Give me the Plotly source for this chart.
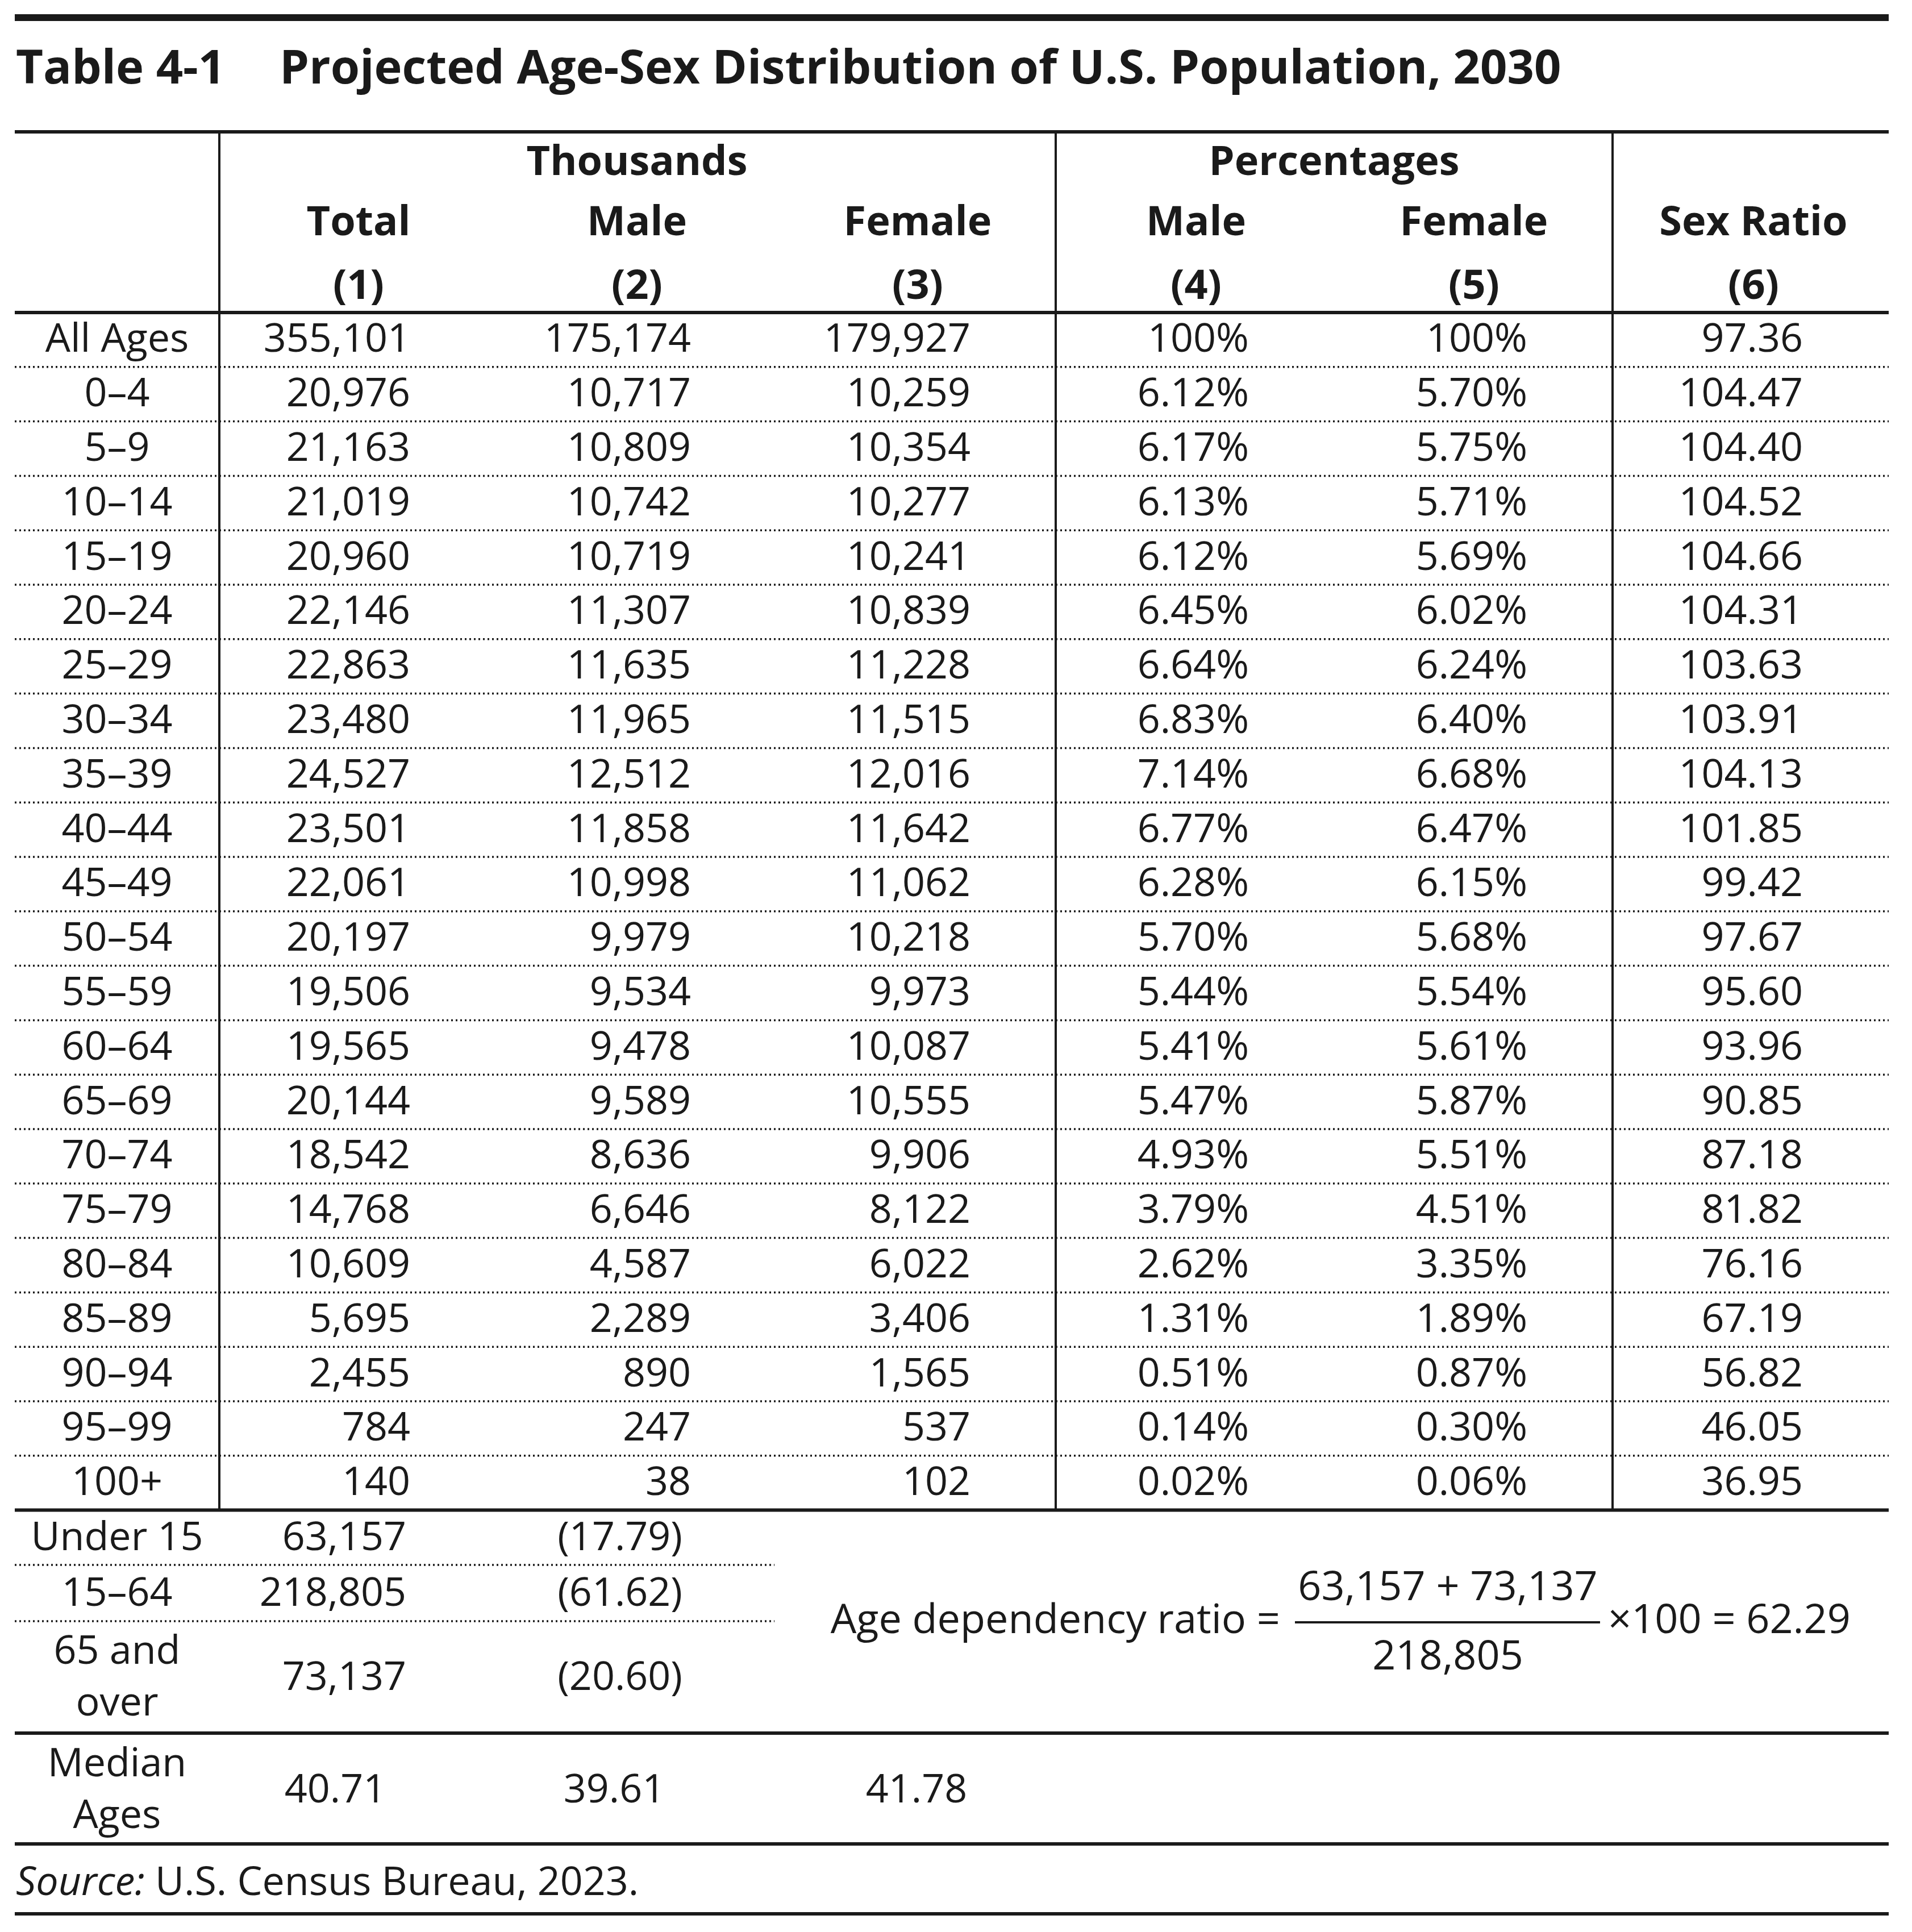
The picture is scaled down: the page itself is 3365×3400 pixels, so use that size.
import plotly.graph_objects as go

# ---- data (thousands, percentages, sex ratio) ----
age_groups = ["All Ages", "0–4", "5–9", "10–14", "15–19", "20–24", "25–29", "30–34",
              "35–39", "40–44", "45–49", "50–54", "55–59", "60–64", "65–69", "70–74",
              "75–79", "80–84", "85–89", "90–94", "95–99", "100+"]
total_k = [355101, 20976, 21163, 21019, 20960, 22146, 22863, 23480, 24527, 23501, 22061,
           20197, 19506, 19565, 20144, 18542, 14768, 10609, 5695, 2455, 784, 140]
male_k = [175174, 10717, 10809, 10742, 10719, 11307, 11635, 11965, 12512, 11858, 10998,
          9979, 9534, 9478, 9589, 8636, 6646, 4587, 2289, 890, 247, 38]
female_k = [179927, 10259, 10354, 10277, 10241, 10839, 11228, 11515, 12016, 11642, 11062,
            10218, 9973, 10087, 10555, 9906, 8122, 6022, 3406, 1565, 537, 102]
male_pct = [100, 6.12, 6.17, 6.13, 6.12, 6.45, 6.64, 6.83, 7.14, 6.77, 6.28,
            5.70, 5.44, 5.41, 5.47, 4.93, 3.79, 2.62, 1.31, 0.51, 0.14, 0.02]
female_pct = [100, 5.70, 5.75, 5.71, 5.69, 6.02, 6.24, 6.40, 6.68, 6.47, 6.15,
              5.68, 5.54, 5.61, 5.87, 5.51, 4.51, 3.35, 1.89, 0.87, 0.30, 0.06]
sex_ratio = [97.36, 104.47, 104.40, 104.52, 104.66, 104.31, 103.63, 103.91, 104.13, 101.85,
             99.42, 97.67, 95.60, 93.96, 90.85, 87.18, 81.82, 76.16, 67.19, 56.82, 46.05, 36.95]

summary_labels = ["Under 15", "15–64", "65 and<br>over"]
summary_totals = [63157, 218805, 73137]
summary_shares = [17.79, 61.62, 20.60]

median_ages = [40.71, 39.61, 41.78]

header_groups = ["Thousands", "Percentages"]
header_names = ["Total", "Male", "Female", "Male", "Female", "Sex Ratio"]
header_nums = ["(1)", "(2)", "(3)", "(4)", "(5)", "(6)"]

# ---- layout geometry (pixels in a 3365 x 3400 canvas) ----
W, H = 3365, 3400
LEFT, RIGHT = 18, 3316
INK = "#1a1a1a"
FONT = "Open Sans"
BODY = 70
HEAD = 72

label_cx = 198
col_right = [714, 1208, 1700, 2190, 2680, 3165]
col_center = [623, 1113, 1607, 2097, 2586, 3078]
group_center = [1113, 2340]
vlines = [378, 1850, 2830]

head_top = 224
body_top = 542
row_h = 95.8
n_rows = len(age_groups)
body_bottom = body_top + row_h * n_rows

row_y = [body_top + row_h * (i + 0.5) + 4 for i in range(n_rows)]


def pct(v):
    return "100%" if v == 100 else f"{v:.2f}%"


fig = go.Figure()


def text_col(xs, ys, texts, pos, size=BODY):
    fig.add_trace(go.Scatter(
        x=xs, y=ys, text=texts, mode="text", textposition=pos,
        textfont=dict(family=FONT, size=size, color=INK),
        hoverinfo="skip", showlegend=False, cliponaxis=False
    ))


# headers
text_col(group_center, [282, 282], [f"<b>{g}</b>" for g in header_groups], "middle center", HEAD)
text_col(col_center, [388] * 6, [f"<b>{n}</b>" for n in header_names], "middle center", HEAD)
text_col(col_center, [500] * 6, [f"<b>{n}</b>" for n in header_nums], "middle center", HEAD)

# body
columns = [
    [f"{v:,}" for v in total_k],
    [f"{v:,}" for v in male_k],
    [f"{v:,}" for v in female_k],
    [pct(v) for v in male_pct],
    [pct(v) for v in female_pct],
    [f"{v:.2f}" for v in sex_ratio],
]
text_col([label_cx] * n_rows, row_y, age_groups, "middle center")
for xr, vals in zip(col_right, columns):
    text_col([xr] * n_rows, row_y, vals, "middle left")

# summary block
sum_y = [2702, 2800, 2948]
text_col([label_cx] * 3, sum_y, summary_labels, "middle center")
text_col([707] * 3, sum_y, [f"{v:,}" for v in summary_totals], "middle left")
text_col([1193] * 3, sum_y, [f"({v:.2f})" for v in summary_shares], "middle left")

# median ages
text_col([label_cx], [3146], ["Median<br>Ages"], "middle center")
text_col([582, 1073, 1605], [3146] * 3, [f"{v:.2f}" for v in median_ages], "middle center")

# dependency ratio formula
young, working, old = summary_totals
dep_ratio = (young + old) / working * 100
text_col([2245], [2848], ["Age dependency ratio ="], "middle left", 72)
text_col([2540], [2790], [f"{young:,} + {old:,}"], "middle center", 72)
text_col([2540], [2912], [f"{working:,}"], "middle center", 72)
text_col([2822], [2848], [f"×100 = {dep_ratio:.2f}"], "middle right", 72)
fig.add_shape(type="line", x0=2271, x1=2808, y0=2847, y1=2847,
              line=dict(color=INK, width=4))

# title and source
fig.add_annotation(x=LEFT, y=106, text="<b>Table 4-1</b>", showarrow=False,
                   xanchor="left", yanchor="middle",
                   font=dict(family=FONT, size=83, color=INK))
fig.add_annotation(x=482, y=106, text="<b>Projected Age-Sex Distribution of U.S. Population, 2030</b>",
                   showarrow=False, xanchor="left", yanchor="middle",
                   font=dict(family=FONT, size=83, color=INK))
fig.add_annotation(x=LEFT, y=3300, text="<i>Source:</i> U.S. Census Bureau, 2023.",
                   showarrow=False, xanchor="left", yanchor="middle",
                   font=dict(family=FONT, size=BODY, color=INK))


# rules
def hline(y, width, x0=LEFT, x1=RIGHT, dash="solid"):
    fig.add_shape(type="line", x0=x0, x1=x1, y0=y, y1=y,
                  line=dict(color=INK, width=width, dash=dash))


hline(23, 12)
hline(head_top, 6)
hline(body_top, 6)
for i in range(1, n_rows):
    hline(body_top + row_h * i, 3.5, dash="3px,5px")
hline(body_bottom, 6)
hline(2746, 3.5, x1=1355, dash="3px,5px")
hline(2845, 3.5, x1=1355, dash="3px,5px")
hline(3042, 6)
hline(3237, 6)
hline(3360, 6)

for xv in vlines:
    fig.add_shape(type="line", x0=xv, x1=xv, y0=head_top + 3, y1=body_bottom,
                  line=dict(color=INK, width=4))

fig.update_layout(
    width=W, height=H,
    margin=dict(l=0, r=0, t=0, b=0),
    plot_bgcolor="white", paper_bgcolor="white",
    xaxis=dict(range=[0, W], visible=False, fixedrange=True),
    yaxis=dict(range=[H, 0], visible=False, fixedrange=True),
    showlegend=False,
)

fig.write_html("out.html")
